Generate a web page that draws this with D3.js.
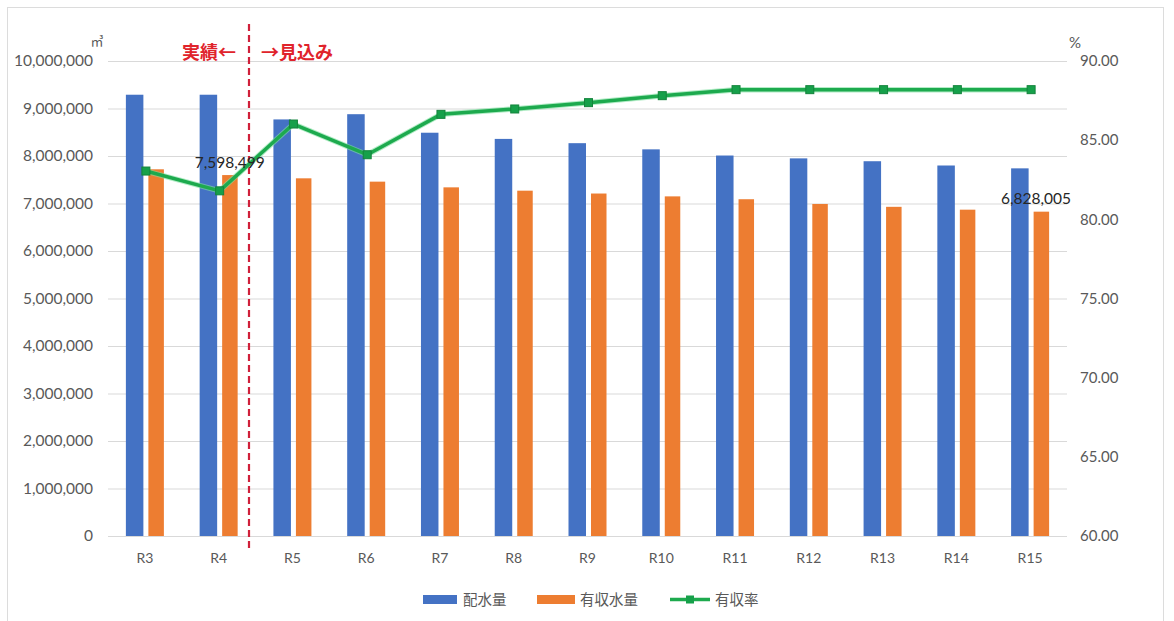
<!DOCTYPE html>
<html><head><meta charset="utf-8">
<script src="https://cdn.jsdelivr.net/npm/d3@7"></script>
<style>
body{margin:0;background:#fff;}
svg{display:block;}
text{font-family:Lato,"Noto Sans CJK JP",sans-serif;}
</style></head>
<body><svg id="c" width="1174" height="621"></svg>
<script>
const categories = ["R3","R4","R5","R6","R7","R8","R9","R10","R11","R12","R13","R14","R15"];
const haisui = [9290000,9290000,8770000,8880000,8490000,8360000,8270000,8140000,8010000,7950000,7890000,7800000,7740000];
const yushu  = [7720000,7598499,7530000,7460000,7340000,7270000,7210000,7150000,7090000,6990000,6930000,6870000,6828005];
const rate   = [83.05,81.80,86.02,84.08,86.63,86.97,87.37,87.81,88.19,88.19,88.19,88.19,88.19];
const leftTicks = [0,1000000,2000000,3000000,4000000,5000000,6000000,7000000,8000000,9000000,10000000];
const rightTicks = [60,65,70,75,80,85,90];
const seriesNames = ["配水量","有収水量","有収率"];
const labelled = [{series:1, index:1}, {series:1, index:12}];

(function(){
const svg = d3.select("#c");
const colors = ["#4472C4","#ED7D31","#1DAA4E"];

svg.append("rect").attr("x",7.5).attr("y",7.5).attr("width",1156).attr("height",620)
  .attr("fill","none").attr("stroke","#dcdcdc");

const pL = 108, pR = 1067, pT = 61, pB = 536;
const x = d3.scaleBand().domain(categories).range([pL,pR]);
const yL = d3.scaleLinear().domain([0,10000000]).range([pB,pT]);
const yR = d3.scaleLinear().domain([60,90]).range([pB,pT]);

svg.append("g").selectAll("line").data(leftTicks).join("line")
  .attr("x1",pL).attr("x2",pR).attr("y1",d=>yL(d)+0.5).attr("y2",d=>yL(d)+0.5)
  .attr("stroke","#d9d9d9").attr("stroke-width",1);

const axL = svg.append("g").attr("transform",`translate(${pL-15},0)`)
  .call(d3.axisLeft(yL).tickValues(leftTicks).tickFormat(d3.format(",")).tickSize(0).tickPadding(0));
axL.select(".domain").remove();
axL.selectAll("text").attr("fill","#595959").style("font-size","15.5px").style("font-family","Lato,sans-serif");

const axR = svg.append("g").attr("transform",`translate(${pR+13},0)`)
  .call(d3.axisRight(yR).tickValues(rightTicks).tickFormat(d3.format(".2f")).tickSize(0).tickPadding(0));
axR.select(".domain").remove();
axR.selectAll("text").attr("fill","#595959").style("font-size","15px").style("font-family","Lato,sans-serif");

const axX = svg.append("g").attr("transform",`translate(0,${pB+13})`)
  .call(d3.axisBottom(x).tickSize(0).tickPadding(4));
axX.select(".domain").remove();
axX.selectAll("text").attr("fill","#595959").style("font-size","14px").style("font-family","Lato,sans-serif");

svg.append("text").attr("x",97).attr("y",46).attr("text-anchor","middle").attr("fill","#595959")
  .style("font-size","13px").text("㎥");
svg.append("text").attr("x",1075).attr("y",48).attr("text-anchor","middle").attr("fill","#595959")
  .style("font-size","15px").text("%");

const bw = 17.5, ow = 15.5, gap = 5;
svg.append("g").selectAll("rect").data(haisui).join("rect")
  .attr("x",(d,i)=>x(categories[i])+x.bandwidth()/2-bw-gap/2+1)
  .attr("y",d=>yL(d)).attr("width",bw).attr("height",d=>yL(0)-yL(d)).attr("fill",colors[0]);
svg.append("g").selectAll("rect").data(yushu).join("rect")
  .attr("x",(d,i)=>x(categories[i])+x.bandwidth()/2+gap/2+1)
  .attr("y",d=>yL(d)).attr("width",ow).attr("height",d=>yL(0)-yL(d)).attr("fill",colors[1]);

const divX = 249;
svg.append("line").attr("x1",divX).attr("x2",divX).attr("y1",24).attr("y2",550)
  .attr("stroke","#d0203a").attr("stroke-width",2.2).attr("stroke-dasharray","7,4");
svg.append("text").attr("x",divX-13).attr("y",59).attr("text-anchor","end").attr("fill","#e0232b")
  .style("font-size","18px").style("font-weight","bold").style("font-family","'Noto Sans CJK JP',sans-serif").text("実績←");
svg.append("text").attr("x",divX+12).attr("y",59).attr("text-anchor","start").attr("fill","#e0232b")
  .style("font-size","18px").style("font-weight","bold").style("font-family","'Noto Sans CJK JP',sans-serif").text("→見込み");

const cx = i => x(categories[i])+x.bandwidth()/2+1;
const line = d3.line().x((d,i)=>cx(i)).y(d=>yR(d));
svg.append("path").datum(rate).attr("d",line).attr("fill","none")
  .attr("stroke","#7fe0a0").attr("stroke-width",5.5).attr("stroke-linejoin","round").attr("opacity",0.6);
svg.append("path").datum(rate).attr("d",line).attr("fill","none")
  .attr("stroke",colors[2]).attr("stroke-width",3.5).attr("stroke-linejoin","round");
svg.append("g").selectAll("rect").data(rate).join("rect")
  .attr("x",(d,i)=>cx(i)-4).attr("y",d=>yR(d)-4).attr("width",8).attr("height",8)
  .attr("fill","#16a04a").attr("stroke","#14843c").attr("stroke-width",1);

const vals = [haisui,yushu];
svg.append("g").selectAll("text").data(labelled).join("text")
  .attr("y",d=>yL(vals[d.series][d.index])-7.5)
  .attr("text-anchor","middle").attr("fill","#262626").style("font-size","15.5px")
  .text(d=>d3.format(",")(vals[d.series][d.index]))
  .attr("x",function(d){
    const w = this.getComputedTextLength();
    return Math.min(cx(d.index)+10, 1071 - w/2);
  });

const lg = svg.append("g").attr("transform","translate(0,599)");
lg.append("rect").attr("x",423).attr("y",-4).attr("width",34).attr("height",9).attr("fill",colors[0]);
lg.append("text").attr("x",463).attr("y",5.5).attr("fill","#595959").style("font-size","14.5px")
  .style("font-family","'Noto Sans CJK JP',sans-serif").text(seriesNames[0]);
lg.append("rect").attr("x",537).attr("y",-4).attr("width",38).attr("height",9).attr("fill",colors[1]);
lg.append("text").attr("x",580).attr("y",5.5).attr("fill","#595959").style("font-size","14.5px")
  .style("font-family","'Noto Sans CJK JP',sans-serif").text(seriesNames[1]);
lg.append("line").attr("x1",670).attr("x2",710).attr("y1",0.5).attr("y2",0.5).attr("stroke",colors[2]).attr("stroke-width",3.5);
lg.append("rect").attr("x",686).attr("y",-3.5).attr("width",8).attr("height",8).attr("fill","#16a04a");
lg.append("text").attr("x",715).attr("y",5.5).attr("fill","#595959").style("font-size","14.5px")
  .style("font-family","'Noto Sans CJK JP',sans-serif").text(seriesNames[2]);
})();
</script></body></html>
